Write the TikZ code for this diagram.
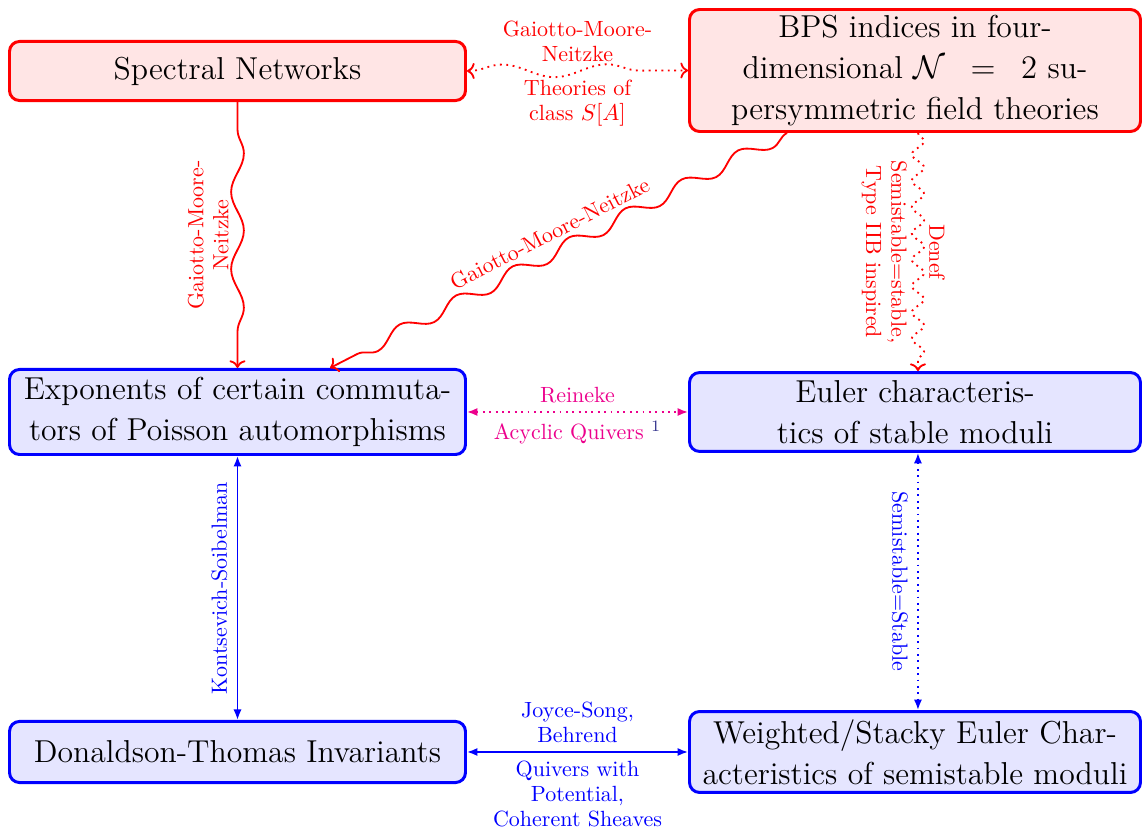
\documentclass[tikz,border=0pt]{standalone}
\usetikzlibrary{decorations.pathmorphing,arrows.meta}
\definecolor{pinkm}{RGB}{236,0,140}
\definecolor{fnblue}{RGB}{50,50,140}
\newcommand{\mainsize}{\fontsize{13.9pt}{18pt}\selectfont}
\newcommand{\lblsize}{\fontsize{9.65pt}{11pt}\selectfont}
\begin{document}
\begin{tikzpicture}[x=0.4386pt,y=0.4386pt,
  boxbase/.style={line width=1.3pt, rounded corners=4.4pt, align=center, font=\mainsize, inner sep=0pt},
  redbox/.style={boxbase, draw=red, fill=red!10},
  bluebox/.style={boxbase, draw=blue, fill=blue!10},
  wideL/.style={minimum width=200pt},
  wideR/.style={minimum width=197.8pt},
  lbl/.style={font=\lblsize, align=center, inner sep=3.5pt},
  redline/.style={draw=red, thick},
  blueline/.style={draw=blue, thick, {Latex[length=4.6pt,width=3.6pt]}-{Latex[length=4.6pt,width=3.6pt]}},
  pinkline/.style={draw=pinkm, thick, dotted, {Latex[length=4.6pt,width=3.6pt]}-{Latex[length=4.6pt,width=3.6pt]}},
]
\useasboundingbox (0,0) rectangle (1143,833);

% boxes
\node[redbox, wideL, minimum height=25.9pt] (spec) at (237.5,762) {Spectral Networks};
\node[redbox, wideR, minimum height=53.5pt] (bps) at (915,762.5)
  {BPS indices in four-\\dimensional $\mathcal{N}\mkern9mu=\mkern9mu2$ su-\\persymmetric field theories};
\node[bluebox, wideL, minimum height=37.3pt] (expo) at (237.5,421)
  {Exponents of certain commuta-\\tors of Poisson automorphisms};
\node[bluebox, wideR, minimum height=34.6pt] (euler) at (915,421)
  {Euler characteris-\\tics of stable moduli};
\node[bluebox, wideL, minimum height=26.8pt] (dt) at (237.5,81) {Donaldson-Thomas Invariants};
\node[bluebox, wideR, minimum height=35.5pt] (wt) at (915,81)
  {Weighted/Stacky Euler Char-\\acteristics of semistable moduli};

% Spectral <-> BPS
\draw[redline, dotted, <->, decorate,
  decoration={snake, amplitude=2.8pt, segment length=46pt, pre length=1pt, post length=2pt}]
  (spec.east) -- node[lbl, text=red, above]{Gaiotto-Moore-\\Neitzke}
                 node[lbl, text=red, below]{Theories of\\class $S[A]$} (bps.west);

% Spectral -> Exponents
\draw[redline, ->, decorate,
  decoration={snake, amplitude=2.8pt, segment length=33.8pt, pre length=12pt, post length=3pt}]
  (spec.south) -- node[lbl, text=red, rotate=90, above]{Gaiotto-Moore-\\Neitzke} (expo.north);

% BPS -> Exponents (diagonal)
\coordinate (bpsd) at (787,700);
\coordinate (expod) at (330,466);
\draw[redline, ->, decorate,
  decoration={snake, amplitude=3pt, segment length=27.8pt, pre length=0pt, post length=3pt}]
  (bps.south -| bpsd) -- node[lbl, text=red, sloped, above, inner sep=4.5pt]{Gaiotto-Moore-Neitzke} (expo.north -| expod);

% BPS -> Euler
\draw[redline, dotted, ->, decorate,
  decoration={snake, amplitude=2.7pt, segment length=11.55pt, pre length=0pt, post length=2pt}]
  ([xshift=1.3pt]bps.south) -- node[lbl, text=red, rotate=-90, above, inner sep=4.5pt]{Denef}
                 node[lbl, text=red, rotate=-90, below, inner sep=4.5pt]{Semistable=stable,\\Type IIB inspired}
  ([xshift=1.3pt]euler.north);

% Exponents <-> Euler
\draw[pinkline] (expo.east) -- node[lbl, text=pinkm, above]{Reineke}
  node[lbl, text=pinkm, below]{Acyclic Quivers \textcolor{fnblue}{$^1$}} (euler.west);

% Exponents <-> DT
\draw[blueline] (expo.south) -- node[lbl, text=blue, rotate=90, above, inner sep=4pt]{Kontsevich-Soibelman} (dt.north);

% Euler <-> Weighted
\draw[blueline, dotted] ([xshift=1.3pt]euler.south) -- node[lbl, text=blue, rotate=-90, below, inner sep=4pt]{Semistable=Stable} ([xshift=1.3pt]wt.north);

% DT <-> Weighted
\draw[blueline] (dt.east) -- node[lbl, text=blue, above]{Joyce-Song,\\Behrend}
  node[lbl, text=blue, below]{Quivers with\\Potential,\\Coherent Sheaves} (wt.west);
\end{tikzpicture}
\end{document}
